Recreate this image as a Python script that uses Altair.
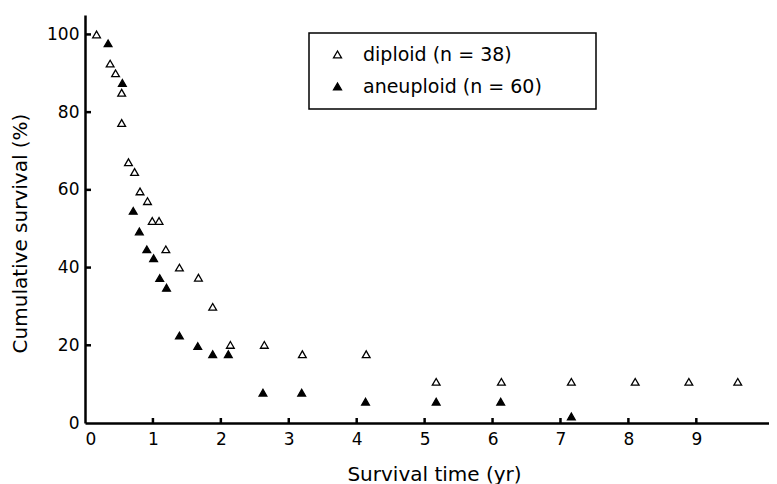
import altair as alt
import pandas as pd

diploid_time = [0.17, 0.37, 0.45, 0.54, 0.54, 0.64, 0.73, 0.81, 0.92, 0.99, 1.09, 1.19,
                1.39, 1.67, 1.88, 2.14, 2.64, 3.20, 4.14, 5.17, 6.13, 7.16, 8.10, 8.89, 9.61]
diploid_surv = [100, 92.5, 90, 85, 77.2, 67.1, 64.6, 59.6, 57.1, 52, 52, 44.7,
                40, 37.4, 29.9, 20.1, 20.1, 17.7, 17.7, 10.6, 10.6, 10.6, 10.6, 10.6, 10.6]

aneuploid_time = [0.34, 0.55, 0.71, 0.80, 0.91, 1.01, 1.10, 1.20, 1.39, 1.66, 1.88, 2.11,
                  2.62, 3.19, 4.13, 5.17, 6.12, 7.16]
aneuploid_surv = [97.7, 87.5, 54.6, 49.3, 44.7, 42.4, 37.3, 34.8, 22.5, 19.8, 17.7, 17.7,
                  7.8, 7.8, 5.5, 5.5, 5.5, 1.7]

groups = ["diploid (n = 38)", "aneuploid (n = 60)"]
x_ticks = [1, 2, 3, 4, 5, 6, 7, 8, 9]
x_labels = [0, 1, 2, 3, 4, 5, 6, 7, 8, 9]
y_ticks = [20, 40, 60, 80, 100]
y_labels = [0, 20, 40, 60, 80, 100]

df = pd.concat([
    pd.DataFrame({"time": diploid_time, "surv": diploid_surv, "group": groups[0]}),
    pd.DataFrame({"time": aneuploid_time, "surv": aneuploid_surv, "group": groups[1]}),
])

W, H = 684, 408
FONT = "DejaVu Sans"
xscale = alt.Scale(domain=[0, 10.07], nice=False, zero=False)
yscale = alt.Scale(domain=[0, 105], nice=False, zero=False)

xaxis = alt.Axis(
    values=x_labels, title="Survival time (yr)", ticks=False, grid=False,
    labelFontSize=17, labelPadding=8, labelFont=FONT, labelColor="black",
    domainColor="black", domainWidth=2.5,
    titleFont=FONT, titleFontSize=20, titleFontWeight="normal", titleColor="black",
    titleX=349, titleY=57, titleAlign="center", titleBaseline="alphabetic")
yaxis = alt.Axis(
    values=y_labels, title="Cumulative survival (%)", ticks=False, grid=False,
    labelFontSize=17, labelPadding=6, labelFont=FONT, labelColor="black",
    domainColor="black", domainWidth=2.5,
    titleFont=FONT, titleFontSize=20, titleFontWeight="normal", titleColor="black",
    titleX=-65, titleY=218, titleAngle=270, titleAlign="center", titleBaseline="middle")

points = alt.Chart(df).mark_point(
    shape="triangle-up", filled=True, stroke="black", strokeWidth=1.3, size=60, opacity=1
).encode(
    x=alt.X("time:Q", scale=xscale, axis=xaxis),
    y=alt.Y("surv:Q", scale=yscale, axis=yaxis),
    fill=alt.Fill("group:N", scale=alt.Scale(domain=groups, range=["white", "black"]),
                  legend=alt.Legend(
                      title=None, orient="none", legendX=224, legendY=18,
                      strokeColor="black", padding=12, rowPadding=12,
                      symbolType="triangle-up", symbolSize=64, symbolStrokeColor="black",
                      symbolStrokeWidth=1.3, symbolOffset=7, labelOffset=16,
                      labelFont=FONT, labelFontSize=19, labelColor="black",
                      labelExpr="datum.label + '" + "\u2800" * 3 + "'",
                      labelLimit=400)),
)

xt = alt.Chart(pd.DataFrame({"time": x_ticks})).mark_rule(color="black", strokeWidth=2.5).encode(
    x=alt.X("time:Q", scale=xscale, axis=xaxis),
    y=alt.value(H - 5), y2=alt.value(H),
)
yt = alt.Chart(pd.DataFrame({"surv": y_ticks})).mark_rule(color="black", strokeWidth=2.5).encode(
    y=alt.Y("surv:Q", scale=yscale, axis=yaxis),
    x=alt.value(0), x2=alt.value(6),
)

chart = alt.layer(xt, yt, points).properties(
    width=W, height=H, background="white",
    autosize=alt.AutoSizeParams(type="none"),
    padding={"left": 77, "top": 7, "right": 0, "bottom": 61},
).configure_view(stroke=None).configure_legend(strokeWidth=1.5)

chart.save("out.html", embed_options={"renderer": "svg", "actions": False})
